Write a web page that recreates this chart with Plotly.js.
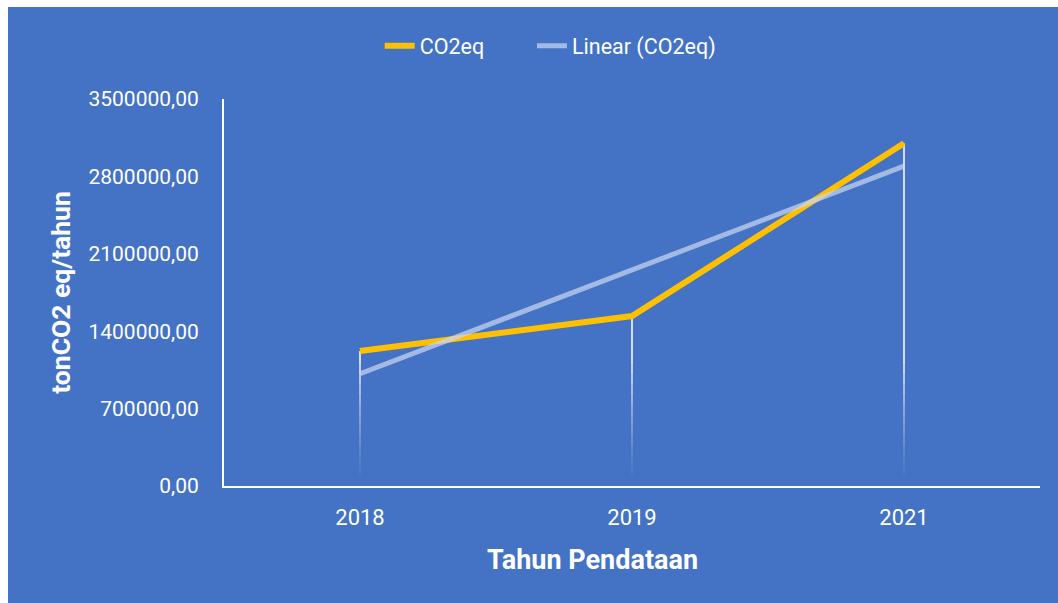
<!DOCTYPE html>
<html>
<head>
<meta charset="utf-8">
<script src="https://cdn.plot.ly/plotly-3.0.1.min.js"></script>
<style>
html,body{margin:0;padding:0;background:#ffffff;width:1058px;height:603px;overflow:hidden;}
#chart{position:absolute;left:8px;top:7px;width:1050px;height:596px;}
</style>
</head>
<body>
<div id="chart"></div>
<script>
const categories = ['2018', '2019', '2021'];
const co2eq = [1220000, 1537000, 3099000];
const linearTrend = [1015000, 1955000, 2893000];
const yTicks = [0, 700000, 1400000, 2100000, 2800000, 3500000];

// drop lines from each CO2eq point to the axis; the lower part fades out
const fadeTop = 1100000;
const nFade = 12;
const dropTraces = [];
(function () {
  const xs = [], ys = [];
  categories.forEach((c, i) => { xs.push(c, c, null); ys.push(co2eq[i], fadeTop, null); });
  dropTraces.push({x: xs, y: ys, mode: 'lines', type: 'scatter', showlegend: false, hoverinfo: 'skip',
    line: {color: 'rgba(255,255,255,0.95)', width: 1.6}});
})();
for (let s = 0; s < nFade; s++) {
  const y0 = fadeTop * (1 - s / nFade), y1 = fadeTop * (1 - (s + 1) / nFade);
  const op = 0.9 * Math.pow(1 - (s + 0.5) / nFade, 1.3);
  const xs = [], ys = [];
  categories.forEach((c) => { xs.push(c, c, null); ys.push(y0, y1, null); });
  dropTraces.push({x: xs, y: ys, mode: 'lines', type: 'scatter', showlegend: false, hoverinfo: 'skip',
    line: {color: 'rgba(255,255,255,' + op.toFixed(3) + ')', width: 1.6}});
}

const data = dropTraces.concat([
  {
    x: categories, y: co2eq, name: 'CO2eq', type: 'scatter', mode: 'lines',
    line: {color: '#FFC000', width: 6}, legend: 'legend'
  },
  {
    x: categories, y: linearTrend, name: 'Linear (CO2eq)', type: 'scatter', mode: 'lines',
    line: {color: 'rgba(200,215,240,0.72)', width: 5}, legend: 'legend2'
  }
]);

const legendFont = {size: 21.5, color: '#ffffff', family: 'Roboto, sans-serif'};

const layout = {
  width: 1050, height: 596,
  paper_bgcolor: '#4472C4', plot_bgcolor: '#4472C4',
  margin: {l: 216, r: 18, t: 92, b: 117},
  separators: ',.',
  font: {family: 'Roboto, sans-serif', color: '#ffffff'},
  showlegend: true,
  legend: {
    orientation: 'h', x: 0.354, xanchor: 'left', xref: 'container',
    y: 0.935, yanchor: 'middle', yref: 'container',
    font: legendFont, bgcolor: 'rgba(0,0,0,0)'
  },
  legend2: {
    orientation: 'h', x: 0.499, xanchor: 'left', xref: 'container',
    y: 0.935, yanchor: 'middle', yref: 'container',
    font: legendFont, bgcolor: 'rgba(0,0,0,0)'
  },
  xaxis: {
    type: 'category', range: [-0.5, 2.5],
    showgrid: false, zeroline: false,
    showline: true, linecolor: '#ffffff', linewidth: 2,
    ticks: '', ticklabelstandoff: 11,
    tickfont: {size: 22, color: '#ffffff', family: 'Roboto, sans-serif'}
  },
  yaxis: {
    range: [0, 3500000], tickvals: yTicks, tickformat: '.2f',
    showgrid: false, zeroline: false,
    showline: true, linecolor: '#ffffff', linewidth: 2,
    ticks: '', ticklabelstandoff: 19,
    tickfont: {size: 21, color: '#ffffff', family: 'Roboto, sans-serif'},
    title: {text: '<b>tonCO2 eq/tahun</b>', standoff: 10,
      font: {size: 26.5, color: '#ffffff', family: 'Roboto, sans-serif'}}
  },
  annotations: [{
    text: '<b>Tahun Pendataan</b>', xref: 'paper', yref: 'paper',
    x: 0.452, y: -0.191, xanchor: 'center', yanchor: 'middle', showarrow: false,
    font: {size: 27, color: '#ffffff', family: 'Roboto, sans-serif'}
  }]
};

Plotly.newPlot('chart', data, layout, {displayModeBar: false, staticPlot: true});
</script>
</body>
</html>
